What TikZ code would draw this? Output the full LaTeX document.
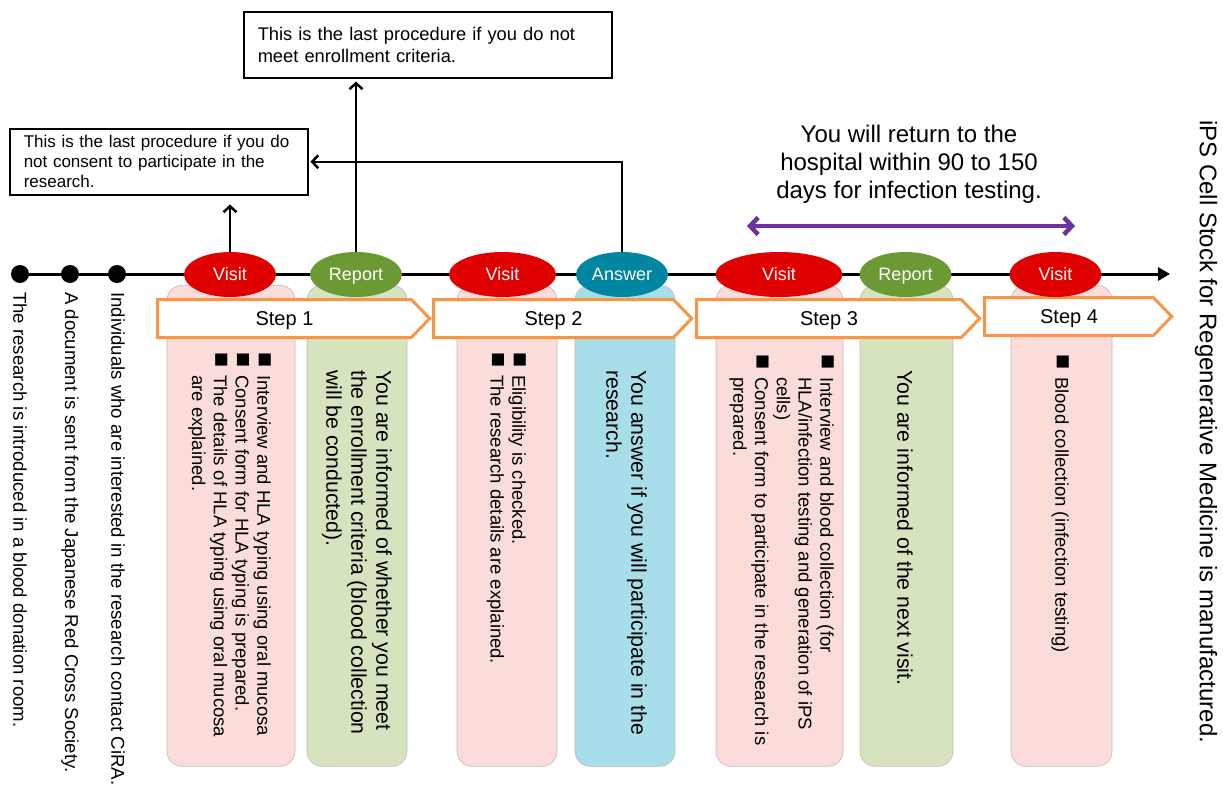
\documentclass[tikz,border=0pt]{standalone}
\usepackage{fontspec}
\setmainfont{Liberation Sans}
\usetikzlibrary{shapes.geometric, shapes.symbols, arrows.meta, positioning, calc}
\definecolor{colVisit}{RGB}{224,0,0}
\definecolor{colReport}{RGB}{107,153,52}
\definecolor{colAnswer}{RGB}{0,134,160}
\definecolor{colPink}{RGB}{250,220,218}
\definecolor{colGreen}{RGB}{213,228,190}
\definecolor{colBlue}{RGB}{168,222,234}
\definecolor{colStep}{RGB}{247,150,70}
\definecolor{colPurple}{RGB}{112,48,160}
\definecolor{colEdge}{RGB}{200,185,185}
\newcommand{\fsz}[2]{\fontsize{#1}{#2}\selectfont}
\newcommand{\bul}{\makebox[23pt][l]{\scalebox{1.35}{■}}}
\newcommand{\hang}{\hspace*{23pt}}
\tikzset{
  event/.style={
    ellipse, minimum width=92pt, minimum height=45pt,
    inner sep=0pt, text=white, font=\fsz{18}{21},
    text height=15pt, text depth=3pt
  },
  visit/.style={event, fill=colVisit},
  report/.style={event, fill=colReport},
  answer/.style={event, fill=colAnswer},
  dot/.style={
    circle, fill=black, minimum size=18pt, inner sep=0pt
  },
  column/.style={
    rectangle, rounded corners=15pt,
    draw=colEdge, line width=0.6pt,
    minimum height=481pt, anchor=north, inner sep=0pt
  },
  stepArrow/.style={
    signal, signal to=east, signal pointer angle=92,
    draw=colStep, line width=3pt, fill=white,
    minimum height=38pt, inner sep=0pt, font=\fsz{20}{24},
    text height=16pt, text depth=2pt
  },
  colText/.style={
    rotate=-90, anchor=north west, align=left,
    inner sep=0pt, font=\fsz{18.5}{21.7}
  },
  bigText/.style={
    colText, font=\fsz{21.3}{25}
  },
  sideText/.style={
    rotate=-90, anchor=west, inner sep=0pt, font=\fsz{18.6}{22}
  },
  noteBox/.style={
    rectangle, draw=black, line width=1.5pt, fill=white,
    align=left, anchor=north west,
    inner xsep=14pt, inner ysep=0pt, minimum height=66pt
  },
  arr/.style={
    -{Straight Barb[length=6pt,width=13pt]}, line width=2.5pt
  },
  returnArr/.style={
    {Straight Barb[length=8pt,width=17pt]}-{Straight Barb[length=8pt,width=17pt]},
    line width=4.5pt, color=colPurple, line cap=round
  }
}

\begin{document}
\begin{tikzpicture}[x=1pt, y=-1pt]
\useasboundingbox (0,0) rectangle (1223,787);

%% ==============================================================
%% Columns under each event
%% ==============================================================
\node[column, fill=colPink,  minimum width=128pt] (col1) at (231,285) {};
\node[column, fill=colGreen, minimum width=100pt] (col2) at (357,285) {};
\node[column, fill=colPink,  minimum width=100pt] (col3) at (507,285) {};
\node[column, fill=colBlue,  minimum width=100pt] (col4) at (625,285) {};
\node[column, fill=colPink,  minimum width=127pt] (col5) at (779.5,285) {};
\node[column, fill=colGreen, minimum width=93pt]  (col6) at (906.5,285) {};
\node[column, fill=colPink,  minimum width=101pt] (col7) at (1061.5,285) {};

%% ==============================================================
%% Step arrows
%% ==============================================================
\node[stepArrow, minimum width=272pt] (step1) at (284.5,318.5) {Step 1};
\node[stepArrow, minimum width=258pt] (step2) at (553.5,318.5) {Step 2};
\node[stepArrow, minimum width=283pt] (step3) at (829,318.5) {Step 3};
\node[stepArrow, minimum width=187pt] (step4) at (1069,316.5) {Step 4};

%% ==============================================================
%% Timeline
%% ==============================================================
\node[dot] (dot1) at (20,274) {};
\node[dot] (dot2) at (70,274) {};
\node[dot] (dot3) at (117,274) {};
\coordinate (lineEnd) at (1170,274);
\draw[line width=3pt, -{Triangle[length=12pt,width=13pt]}] (dot1.center) -- (lineEnd);

\node[visit]  (visit1)  at (230,274.5) {Visit};
\node[report] (report1) at (356,274.5) {Report};
\node[visit, minimum width=107pt] (visit2) at (502.5,274.5) {Visit};
\node[answer] (answer)  at (622,274.5) {Answer};
\node[visit, minimum width=127pt] (visit3) at (779,274.5) {Visit};
\node[report] (report3) at (905.5,274.5) {Report};
\node[visit]  (visit4)  at (1055.5,274.5) {Visit};

%% ==============================================================
%% Exit notes
%% ==============================================================
\node[noteBox, text width=340pt, font=\fsz{18.3}{22}] (enroll) at (243,11) {
  This is the last procedure if you do not\\
  meet enrollment criteria.
};
\node[noteBox, text width=270pt, font=\fsz{17}{20}] (consent) at (9,128) {
  This is the last procedure if you do\\
  not consent to participate in the\\
  research.
};

\draw[arr, shorten >=9pt] (visit1.north) -- (visit1.north |- consent.south);
\draw[arr, shorten >=3pt] (report1.north) -- (report1.north |- enroll.south);
\draw[arr, shorten >=2pt] (answer.north) |- (consent.east);

%% ==============================================================
%% Return period
%% ==============================================================
\coordinate (retL) at (747,226);
\coordinate (retR) at (1075,226);
\draw[returnArr] (retL) -- (retR);
\node[align=center, font=\fsz{24}{28}] (retNote) at (909,164) {
  You will return to the\\
  hospital within 90 to 150\\
  days for infection testing.
};

%% ==============================================================
%% Texts
%% ==============================================================
\node[sideText] (intro1) at (20,292) {The research is introduced in a blood donation room.};
\node[sideText] (intro2) at (70,292) {A document is sent from the Japanese Red Cross Society.};
\node[sideText] (intro3) at (118,292) {Individuals who are interested in the research contact CiRA.};

\node[colText] (txt1) at (271,352) {
  \bul Interview and HLA typing using oral mucosa\\
  \bul Consent form for HLA typing is prepared.\\
  \bul The details of HLA typing using oral mucosa\\
  \hang are explained.
};
\node[bigText] (txt2) at (392,370) {
  You are informed of whether you meet\\
  the enrollment criteria (blood collection\\
  will be conducted).
};
\node[colText] (txt3) at (526,352) {
  \bul Eligibility is checked.\\
  \bul The research details are explained.
};
\node[bigText] (txt4) at (647,370) {
  You answer if you will participate in the\\
  research.
};
\node[colText] (txt5) at (834,354) {
  \bul Interview and blood collection (for\\
  \hang HLA/infection testing and generation of iPS\\
  \hang cells)\\
  \bul Consent form to participate in the research is\\
  \hang prepared.
};
\node[bigText] (txt6) at (913,370) {You are informed of the next visit.};
\node[colText] (txt7) at (1069,354) {\bul Blood collection (infection testing)};

\node[sideText, font=\fsz{24}{28}] (result) at (1206,120)
  {iPS Cell Stock for Regenerative Medicine is manufactured.};

\end{tikzpicture}
\end{document}
